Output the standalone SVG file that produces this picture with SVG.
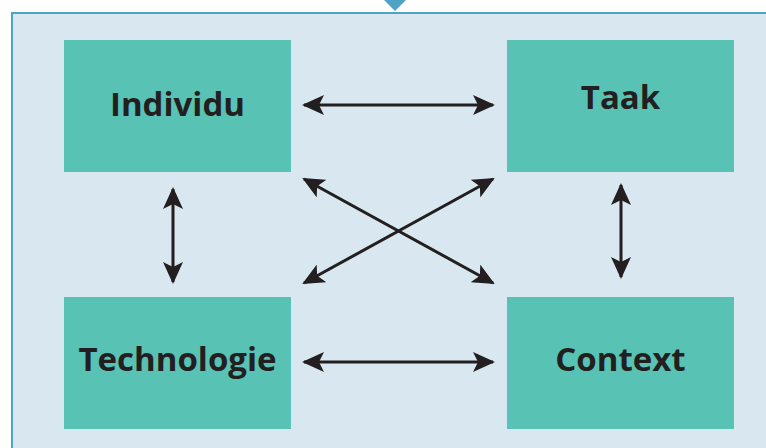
<svg xmlns="http://www.w3.org/2000/svg" width="766" height="448" viewBox="0 0 766 448">
<style>
.box{fill:#58c2b4}
.lbl{font-family:"Open Sans","Noto Sans",sans-serif;font-weight:bold;font-size:33px;fill:#231f20;text-anchor:middle}
.con{stroke:#231f20;stroke-width:3;fill:none;marker-start:url(#ah);marker-end:url(#ah)}
</style>
<defs>
<marker id="ah" viewBox="0 0 22 20" refX="20" refY="10" markerWidth="22" markerHeight="20" markerUnits="userSpaceOnUse" orient="auto-start-reverse">
<path d="M0,0 L22,10 L0,20 L5,10 Z" fill="#231f20"/>
</marker>
</defs>
<rect x="0" y="0" width="766" height="448" fill="#ffffff"/>
<rect x="12" y="13" width="770" height="450" fill="#d9e8f0" stroke="#4fa3c4" stroke-width="2"/>
<polygon points="384,0 406,0 395,11" fill="#4fa3c4"/>
<g id="individu"><rect class="box" x="64" y="40" width="227" height="132"/><text class="lbl" x="177.5" y="116">Individu</text></g>
<g id="taak"><rect class="box" x="507" y="40" width="227" height="132"/><text class="lbl" x="620.5" y="109">Taak</text></g>
<g id="technologie"><rect class="box" x="64" y="297" width="227" height="132"/><text class="lbl" x="177.5" y="371">Technologie</text></g>
<g id="context"><rect class="box" x="507" y="297" width="227" height="132"/><text class="lbl" x="620.5" y="371">Context</text></g>
<g id="connectors">
<line class="con" x1="304" y1="105" x2="493" y2="105"/>
<line class="con" x1="304" y1="362" x2="493" y2="362"/>
<line class="con" x1="173" y1="189" x2="173" y2="282"/>
<line class="con" x1="621" y1="185" x2="621" y2="277"/>
<line class="con" x1="304" y1="179" x2="493" y2="283"/>
<line class="con" x1="493" y1="179" x2="304" y2="283"/>
</g>
</svg>
